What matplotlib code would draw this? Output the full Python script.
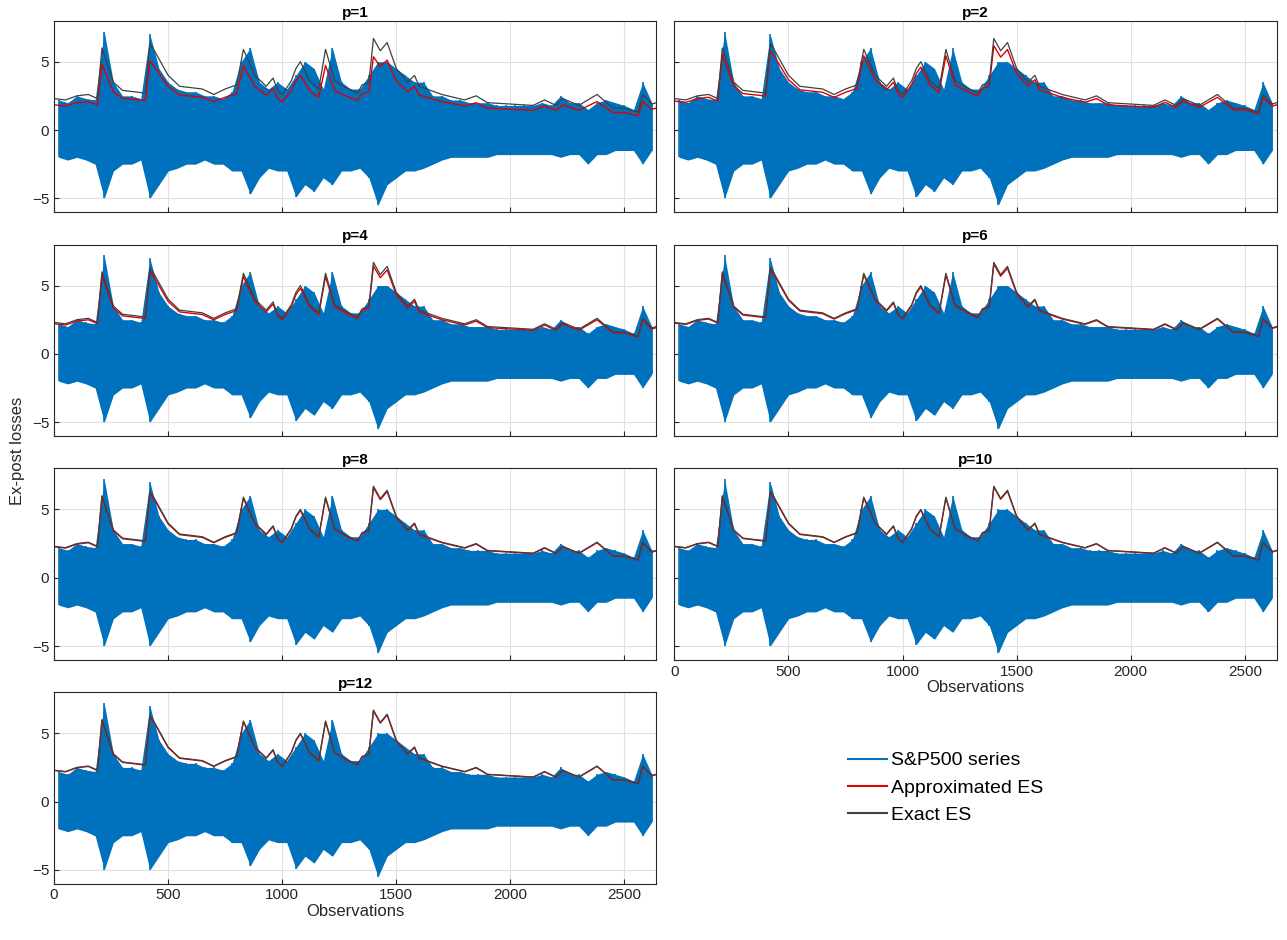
import numpy as np
import matplotlib
matplotlib.use("Agg")
import matplotlib.pyplot as plt
from matplotlib.lines import Line2D

plt.rcParams['font.family'] = ['Liberation Sans', 'DejaVu Sans']

panels = ["p=1", "p=2", "p=4", "p=6", "p=8", "p=10", "p=12"]
approx_ratio = [0.80, 0.92, 0.96, 0.98, 0.985, 0.99, 0.99]

es_x = [0, 50, 100, 150, 190, 210, 260, 300, 350, 400, 420, 440, 500, 550, 600, 650, 700, 750, 800, 830,
        880, 930, 960, 980, 1000, 1040, 1060, 1080, 1120, 1160, 1190, 1230, 1280, 1330, 1350, 1380, 1400,
        1430, 1460, 1500, 1550, 1580, 1600, 1700, 1800, 1850, 1900, 2000, 2100, 2150, 2200, 2230, 2300,
        2380, 2450, 2500, 2560, 2580, 2620, 2640]
es_y = [2.3, 2.2, 2.5, 2.6, 2.3, 6.0, 3.5, 2.9, 2.8, 2.7, 6.3, 5.8, 4.0, 3.2, 3.1, 3.0, 2.6, 3.0, 3.3, 5.9,
        4.0, 3.2, 3.8, 2.9, 2.6, 3.6, 4.5, 5.0, 3.6, 3.0, 5.9, 3.6, 3.1, 2.7, 3.3, 3.5, 6.7,
        5.8, 6.4, 4.5, 3.5, 4.0, 3.2, 2.6, 2.2, 2.5, 2.0, 1.9, 1.8, 2.2, 1.8, 2.3, 1.8,
        2.6, 1.6, 1.6, 1.3, 2.6, 1.9, 2.0]

ret_bin_center = list(range(20, 2640, 40))
ret_high = [2.2,2.0,2.5,2.3,2.2,7.2,3.5,2.5,2.5,2.3,
            7.0,4.5,3.5,3.0,2.8,2.8,2.5,2.5,2.3,2.8,
            5.0,6.0,3.5,3.0,3.5,3.0,4.0,5.0,4.5,3.0,
            6.0,3.5,3.0,3.0,4.0,5.0,5.0,4.5,4.0,3.5,
            3.5,2.5,2.5,2.2,2.2,2.0,2.0,2.0,1.8,1.8,
            1.8,1.8,1.8,2.0,1.8,2.5,2.0,2.0,1.5,2.0,
            2.2,2.0,1.8,1.5,3.5,2.0]
ret_low = [-2.0,-2.2,-2.0,-2.2,-2.5,-5.0,-3.0,-2.5,-2.5,-2.2,
           -5.0,-4.0,-3.0,-2.8,-2.5,-2.5,-2.2,-2.5,-2.5,-3.0,
           -3.0,-4.7,-3.5,-2.8,-3.0,-3.0,-4.9,-4.0,-4.5,-3.5,
           -4.0,-3.0,-3.0,-2.8,-3.5,-5.5,-4.0,-3.5,-3.0,-3.0,
           -2.8,-2.5,-2.2,-2.0,-2.0,-2.0,-2.0,-2.0,-1.8,-1.8,
           -1.8,-1.8,-1.8,-1.8,-1.8,-2.0,-1.8,-1.8,-2.5,-1.8,
           -1.8,-1.5,-1.5,-1.5,-2.5,-1.5]

BLUE = "#0072BD"; RED = "#E00000"; DARK = "#404040"

fig, axes = plt.subplots(4, 2, figsize=(12.87, 9.40), dpi=100)
fig.subplots_adjust(left=0.042, right=0.992, top=0.978, bottom=0.06, wspace=0.03, hspace=0.17)
flat = [axes[0,0], axes[0,1], axes[1,0], axes[1,1], axes[2,0], axes[2,1], axes[3,0]]
for ax, title, r in zip(flat, panels, approx_ratio):
    ax.set_axisbelow(True)
    ax.fill_between(ret_bin_center, ret_low, ret_high, color=BLUE, lw=0)
    ax.vlines(ret_bin_center, ret_low, ret_high, color=BLUE, lw=1.2)
    ax.plot(es_x, np.array(es_y) * r, color=RED, lw=1)
    ax.plot(es_x, es_y, color=DARK, lw=0.9)
    ax.set_title(title, fontweight="bold", fontsize=11, pad=3)
    ax.set_xlim(0, 2640); ax.set_ylim(-6, 8)
    ax.set_yticks([-5, 0, 5]); ax.set_xticks([0, 500, 1000, 1500, 2000, 2500])
    ax.grid(True, color="#e0e0e0", lw=0.8)
    ax.tick_params(labelsize=11, direction="in", colors="#262626")
    for s in ax.spines.values(): s.set_color("#262626"); s.set_linewidth(0.8)
for ax in [axes[0,0], axes[1,0], axes[2,0], axes[0,1], axes[1,1]]:
    ax.set_xticklabels([])
for ax in [axes[0,1], axes[1,1], axes[2,1]]:
    ax.set_yticklabels([])
axes[2,1].set_xlabel("Observations", fontsize=12, labelpad=1, color="#262626")
axes[3,0].set_xlabel("Observations", fontsize=12, labelpad=1, color="#262626")
fig.text(0.008, 0.52, "Ex-post losses", rotation=90, va="center", fontsize=12, color="#262626")
axes[3,1].axis("off")
handles = [Line2D([], [], color=BLUE), Line2D([], [], color=RED), Line2D([], [], color=DARK)]
axes[3,1].legend(handles, ["S&P500 series", "Approximated ES", "Exact ES"], loc="center",
                 bbox_to_anchor=(0.45, 0.5), frameon=False, fontsize=14, handlelength=2, handletextpad=0.2)
fig.savefig("out.png")
